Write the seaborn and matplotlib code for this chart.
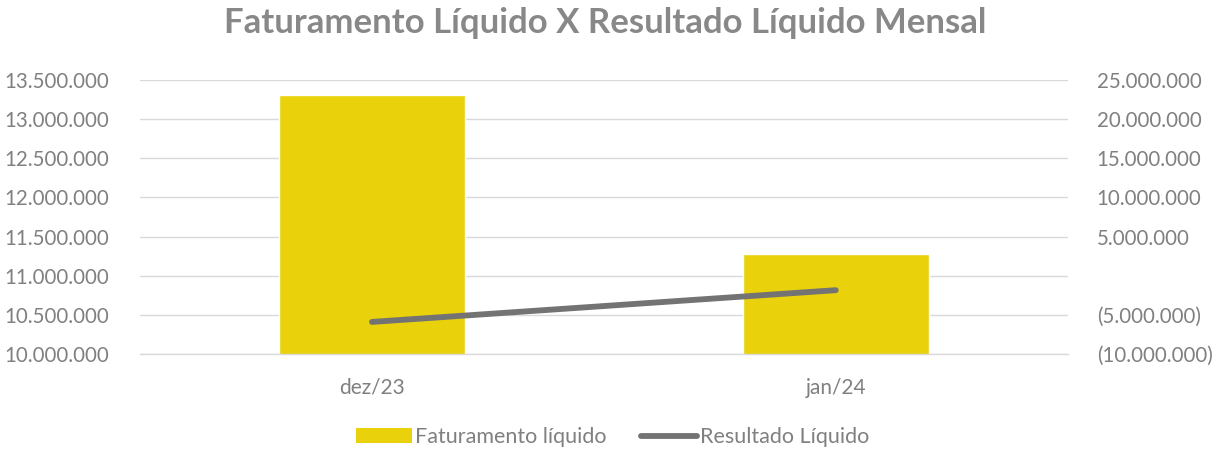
import matplotlib
matplotlib.use('Agg')
import matplotlib.pyplot as plt
import matplotlib.ticker as mticker
from matplotlib.patches import Patch
from matplotlib.lines import Line2D
import pandas as pd
import seaborn as sns

meses = ['dez/23', 'jan/24']
faturamento = [13310000, 11278000]
resultado = [-5900000, -1850000]

sns.set_theme(style='white')
plt.rcParams['font.family'] = ['Lato', 'DejaVu Sans']

cinza = '#808080'
amarelo = '#E9D10B'
linha = '#737373'
grade = '#D9D9D9'

df = pd.DataFrame({'mes': meses, 'fat': faturamento, 'res': resultado})

fig = plt.figure(figsize=(12.23, 4.51), dpi=100)
ax = fig.add_axes([0.1145, 0.215, 0.7585, 0.608])

# barras do faturamento (eixo esquerdo)
sns.barplot(data=df, x='mes', y='fat', color=amarelo, width=0.4, ax=ax, saturation=1)
ax.set_ylim(10000000, 13500000)
ax.set_xlim(-0.5, 1.5)
ax.yaxis.set_major_locator(mticker.MultipleLocator(500000))

def fmt_pt(v, pos=None):
    if abs(v) < 1:
        return ''
    s = f'{abs(v):,.0f}'.replace(',', '.')
    return f'({s})' if v < 0 else s

ax.yaxis.set_major_formatter(mticker.FuncFormatter(fmt_pt))
ax.grid(axis='y', color=grade, linewidth=1)
ax.set_axisbelow(True)
for s in ['top', 'right', 'left']:
    ax.spines[s].set_visible(False)
ax.spines['bottom'].set_color(grade)
ax.spines['bottom'].set_linewidth(1)
ax.set_xlabel('')
ax.set_ylabel('')
ax.tick_params(axis='y', length=0, pad=22, labelsize=14.8, labelcolor=cinza)
ax.tick_params(axis='x', which='major', length=0, pad=17, labelsize=15, labelcolor=cinza)
ax.set_xticks([-0.5, 0.5, 1.5], minor=True)
ax.tick_params(axis='x', which='minor', length=6, color=grade, width=1)

# linha do resultado (eixo direito)
ax2 = ax.twinx()
sns.lineplot(data=df, x='mes', y='res', color=linha, linewidth=4.2, sort=False, ax=ax2,
             solid_capstyle='round')
ax2.set_ylim(-10000000, 25000000)
ax2.yaxis.set_major_locator(mticker.MultipleLocator(5000000))
ax2.yaxis.set_major_formatter(mticker.FuncFormatter(fmt_pt))
for s in ['top', 'right', 'left', 'bottom']:
    ax2.spines[s].set_visible(False)
ax2.set_ylabel('')
ax2.tick_params(axis='y', length=0, pad=21, labelsize=14.8, labelcolor=cinza)
ax.set_xlim(-0.5, 1.5)

fig.suptitle('Faturamento Líquido X Resultado Líquido Mensal', x=0.495, y=0.985,
             fontsize=25, fontweight='bold', color='#888888')

handles = [Patch(facecolor=amarelo, edgecolor='none'),
           Line2D([0], [0], color=linha, linewidth=4.2, solid_capstyle='round')]
fig.legend(handles, ['Faturamento líquido', 'Resultado Líquido'], loc='center',
           bbox_to_anchor=(0.501, 0.03), ncol=2, frameon=False, fontsize=15.5,
           labelcolor=cinza, handlelength=2.6, handletextpad=0.15, columnspacing=1.6)

fig.savefig('out.png', dpi=100)
